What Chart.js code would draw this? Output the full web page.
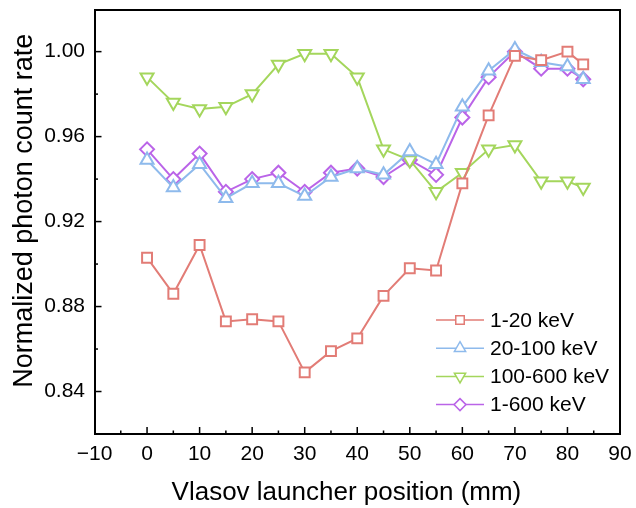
<!DOCTYPE html>
<html>
<head>
<meta charset="utf-8">
<script src="https://cdn.jsdelivr.net/npm/chart.js@4"></script>
<style>
  body { margin: 0; background: #fff; }
  canvas { display: block; }
</style>
</head>
<body>
<canvas id="grafico" width="636" height="508"></canvas>
<script>
const posicoes = [0, 5, 10, 15, 20, 25, 30, 35, 40, 45, 50, 55, 60, 65, 70, 75, 80, 83];
const serieNomes = ['1-20 keV', '20-100 keV', '100-600 keV', '1-600 keV'];
const valores1a20 = [0.903, 0.886, 0.909, 0.873, 0.874, 0.873, 0.849, 0.859, 0.865, 0.885, 0.898, 0.897, 0.938, 0.970, 0.998, 0.996, 1.000, 0.994];
const valores20a100 = [0.949, 0.936, 0.947, 0.931, 0.938, 0.938, 0.932, 0.941, 0.945, 0.942, 0.953, 0.947, 0.974, 0.991, 1.001, 0.995, 0.993, 0.987];
const valores100a600 = [0.988, 0.976, 0.973, 0.974, 0.980, 0.994, 0.999, 0.999, 0.988, 0.954, 0.949, 0.934, 0.943, 0.954, 0.956, 0.939, 0.939, 0.936];
const valores1a600 = [0.954, 0.940, 0.952, 0.934, 0.940, 0.943, 0.934, 0.943, 0.945, 0.941, 0.949, 0.942, 0.969, 0.988, 1.000, 0.992, 0.992, 0.987];
const xTicks = [-10, 0, 10, 20, 30, 40, 50, 60, 70, 80, 90];
const yTicks = [0.84, 0.88, 0.92, 0.96, 1.00];

const cores = ['rgb(226,124,118)', 'rgb(142,186,236)', 'rgb(164,214,92)', 'rgb(186,100,232)'];
const estilos = ['rect', 'triangle', 'triangle', 'rectRot'];
const rotacoes = [0, 0, 180, 0];
const raios = [7, 7.5, 7.5, 7];
const fonte = '"Liberation Sans", Arial, sans-serif';

function serie(i, valores) {
    return {
        label: serieNomes[i],
        data: posicoes.map((x, k) => ({ x: x, y: valores[k] })),
        borderColor: cores[i],
        backgroundColor: '#fff',
        pointBackgroundColor: '#fff',
        pointBorderColor: cores[i],
        pointStyle: estilos[i],
        rotation: rotacoes[i],
        pointRadius: raios[i],
        pointBorderWidth: 2,
        borderWidth: 2,
        tension: 0,
        clip: false
    };
}

// eixo auxiliar so com a linha da moldura (topo e direita)
function eixoMoldura(posicao, vertical) {
    return {
        position: posicao,
        type: 'linear',
        display: true,
        min: 0,
        max: 1,
        grid: { display: false, drawTicks: false },
        ticks: { display: false },
        border: { display: true, color: '#000', width: 2 },
        afterFit(scale) {
            if (vertical) scale.width = 0; else scale.height = 0;
            scale.paddingTop = 0; scale.paddingBottom = 0;
            scale.paddingLeft = 0; scale.paddingRight = 0;
        }
    };
}

// ticks para dentro
const ticksDentro = {
    id: 'ticksDentro',
    beforeDatasetsDraw(chart) {
        const ctx = chart.ctx;
        const a = chart.chartArea;
        const xs = chart.scales.x, ys = chart.scales.y;
        ctx.save();
        ctx.fillStyle = '#000';
        for (let v = -5; v < 90; v += 5) {
            const px = xs.getPixelForValue(v);
            const len = v % 10 === 0 ? 7 : 3.5;
            ctx.fillRect(px - 0.75, a.bottom - len, 1.5, len);
        }
        for (let k = 84; k <= 100; k += 2) {
            const py = ys.getPixelForValue(k / 100);
            const len = k % 4 === 0 ? 7 : 3.5;
            ctx.fillRect(a.left, py - 0.75, len, 1.5);
        }
        ctx.restore();
    }
};

// legenda com linha e marcador
const legenda = {
    id: 'legenda',
    afterDraw(chart) {
        const ctx = chart.ctx;
        const a = chart.chartArea;
        const lx = a.right - 184;
        let ly = a.bottom - 114;
        ctx.save();
        ctx.setLineDash([]);
        ctx.font = '21px ' + fonte;
        ctx.textBaseline = 'middle';
        ctx.textAlign = 'left';
        chart.data.datasets.forEach((ds, i) => {
            ctx.strokeStyle = cores[i];
            ctx.lineWidth = 1.5;
            ctx.beginPath();
            ctx.moveTo(lx, ly);
            ctx.lineTo(lx + 48, ly);
            ctx.stroke();
            ctx.fillStyle = '#fff';
            Chart.helpers.drawPoint(ctx, {
                pointStyle: estilos[i],
                rotation: rotacoes[i],
                radius: raios[i] - 1,
                borderWidth: 1.5
            }, lx + 24, ly);
            ctx.fillStyle = '#000';
            ctx.fillText(ds.label, lx + 54, ly + 1);
            ly += 28.2;
        });
        ctx.restore();
    }
};

document.addEventListener("DOMContentLoaded", function () {
    const ctx = document.getElementById('grafico').getContext('2d');
    new Chart(ctx, {
        type: 'line',
        data: {
            datasets: [
                serie(0, valores1a20),
                serie(1, valores20a100),
                serie(2, valores100a600),
                serie(3, valores1a600)
            ]
        },
        options: {
            responsive: false,
            animation: false,
            layout: { padding: { top: 10, right: 16, left: 0, bottom: 0 } },
            plugins: {
                legend: { display: false },
                tooltip: { enabled: false }
            },
            scales: {
                x: {
                    type: 'linear',
                    position: 'bottom',
                    min: -10,
                    max: 90,
                    afterBuildTicks(scale) {
                        scale.ticks = xTicks.map(v => ({ value: v }));
                    },
                    afterFit(scale) {
                        scale.height = 74;
                        scale.paddingLeft = 0;
                        scale.paddingRight = 0;
                    },
                    grid: { display: false, drawTicks: false },
                    border: { display: true, color: '#000', width: 2 },
                    ticks: {
                        padding: 8,
                        color: '#000',
                        font: { family: fonte, size: 21 },
                        maxRotation: 0,
                        callback: v => (v < 0 ? '\u2212' + Math.abs(v) : String(v))
                    },
                    title: {
                        display: true,
                        text: 'Vlasov launcher position (mm)\u00a0\u00a0\u00a0',
                        color: '#000',
                        font: { family: fonte, size: 26 },
                        padding: { top: 0, bottom: 0 }
                    }
                },
                y: {
                    position: 'left',
                    min: 0.82,
                    max: 1.0196,
                    afterBuildTicks(scale) {
                        scale.ticks = yTicks.map(v => ({ value: v }));
                    },
                    afterFit(scale) {
                        scale.width = 94.5;
                        scale.paddingTop = 0;
                        scale.paddingBottom = 0;
                    },
                    grid: { display: false, drawTicks: false },
                    border: { display: true, color: '#000', width: 2 },
                    ticks: {
                        padding: 9.5,
                        color: '#000',
                        font: { family: fonte, size: 21 },
                        callback: v => v.toFixed(2)
                    },
                    title: {
                        display: true,
                        text: '\u00a0\u00a0\u00a0Normalized photon count rate',
                        color: '#000',
                        font: { family: fonte, size: 27 },
                        padding: { top: 8, bottom: 0 }
                    }
                },
                xTopo: eixoMoldura('top', false),
                yDireita: eixoMoldura('right', true)
            }
        },
        plugins: [ticksDentro, legenda]
    });
});
</script>
</body>
</html>
